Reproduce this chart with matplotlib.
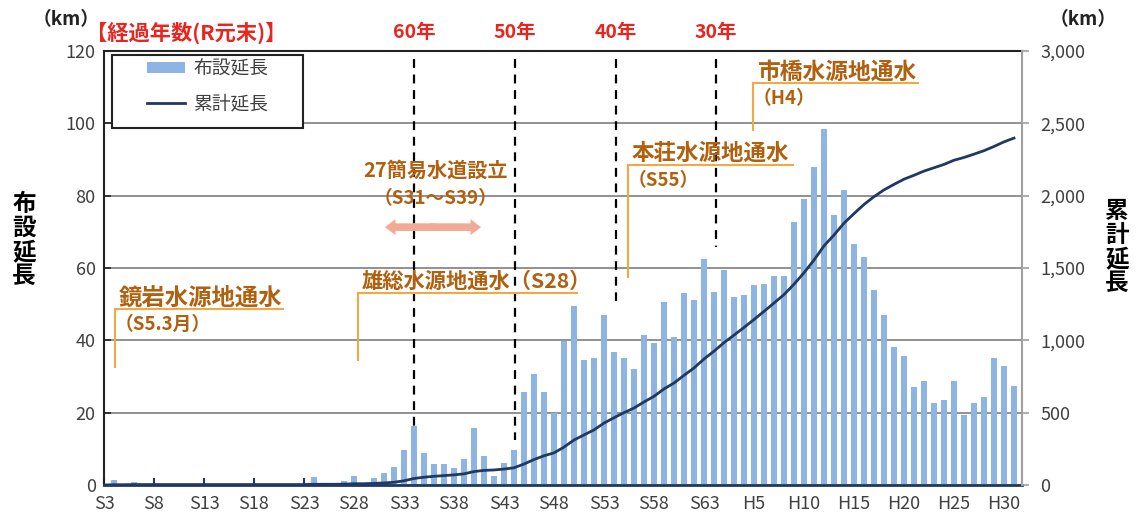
import numpy as np
import matplotlib
matplotlib.use('Agg')
import matplotlib.pyplot as plt
from matplotlib.patches import FancyArrowPatch, Rectangle
from matplotlib.lines import Line2D
from matplotlib.patches import Patch

plt.rcParams['font.family'] = ['Noto Sans CJK JP', 'DejaVu Sans']

# one value per year, S3 (1928) .. R1 (2019)
years = list(range(1928, 2020))

laid = [0, 1.5, 0, 0.8, 0, 0, 0, 0, 0, 0,
        0, 0, 0, 0, 0, 0, 0, 0, 0, 0,
        0, 2.1, 0, 0, 1.2, 2.6, 0, 1.9, 3.2, 5.1,
        9.7, 16.3, 8.9, 5.7, 5.7, 4.8, 7.1, 15.7, 8.0, 2.6,
        6.2, 9.7, 25.8, 30.7, 25.8, 20.0, 39.9, 49.5, 34.7, 35.2,
        47.0, 36.7, 35.0, 32.2, 41.5, 39.3, 50.6, 40.8, 53.2, 51.1,
        62.4, 53.3, 59.4, 52.1, 52.4, 55.3, 55.6, 57.9, 57.9, 72.6,
        79.0, 87.8, 98.3, 74.6, 81.6, 66.5, 63.0, 53.9, 47.0, 38.2,
        35.7, 27.0, 28.8, 22.6, 23.5, 28.8, 19.3, 22.6, 24.4, 35.2,
        33.0, 27.5]

total = [0, 2, 2, 3, 3, 3, 3, 3, 3, 3,
         3, 3, 3, 3, 3, 3, 3, 3, 3, 3,
         3, 5, 5, 5, 6, 9, 9, 11, 14, 19,
         29, 45, 54, 60, 65, 70, 77, 93, 101, 104,
         110, 119, 145, 176, 202, 222, 262, 311, 346, 381,
         428, 465, 500, 532, 574, 613, 664, 705, 758, 809,
         871, 925, 984, 1036, 1089, 1144, 1200, 1258, 1316, 1388,
         1467, 1555, 1653, 1728, 1810, 1876, 1939, 1993, 2040, 2078,
         2114, 2141, 2170, 2193, 2216, 2245, 2264, 2287, 2311, 2340,
         2372, 2398]

tick_labels = ['S3', 'S8', 'S13', 'S18', 'S23', 'S28', 'S33', 'S38', 'S43',
               'S48', 'S53', 'S58', 'S63', 'H5', 'H10', 'H15', 'H20', 'H25', 'H30']

elapsed = ['60年', '50年', '40年', '30年']
elapsed_pos = [31, 41.1, 51.2, 61.2]
elapsed_end = [16.3, 12.4, 51, 65.8]

bar_color = '#8EB4E3'
line_color = '#1F3864'
note_color = '#B0600E'
lead_color = '#F2A945'
red = '#E8251F'

fig = plt.figure(figsize=(11.36, 5.22), dpi=100)
ax = fig.add_axes([104/1136, 1-485/522, 918/1136, 434/522])

x = np.arange(len(years))
ax.bar(x, laid, width=0.68, color=bar_color, zorder=2)
ax.set_xlim(0, 91.8)
ax.set_ylim(0, 120)
ax.set_yticks(range(0, 121, 20))
ax.yaxis.grid(True, color='#888888', lw=1.3)
ax.set_axisbelow(True)
ax.set_xticks(range(0, 91, 5))
ax.set_xticklabels(tick_labels)
ax.tick_params(axis='y', direction='in', length=5, width=1.2, color='#222222',
               labelsize=13, labelcolor='#404040', pad=6)
ax.tick_params(axis='x', direction='in', length=5, width=1.5, color=line_color,
               labelsize=13, labelcolor='#404040', pad=7)
for s in ['top', 'left']:
    ax.spines[s].set_color('#222222')
    ax.spines[s].set_linewidth(1.5)
ax.spines['bottom'].set_color(line_color)
ax.spines['bottom'].set_linewidth(2)
ax.spines['right'].set_visible(False)

ax2 = ax.twinx()
ax2.plot(x, total, color=line_color, lw=2, zorder=3)
ax2.set_ylim(0, 3000)
ax2.set_yticks(range(0, 3001, 500))
ax2.set_yticklabels(['{:,}'.format(v) for v in range(0, 3001, 500)])
ax2.tick_params(axis='y', direction='out', length=5, width=1.2, color='#A0A0A0',
                labelsize=13, labelcolor='#404040', pad=8)
for s in ['top', 'left', 'bottom']:
    ax2.spines[s].set_visible(False)
ax2.spines['right'].set_color('#A0A0A0')
ax2.spines['right'].set_linewidth(1.5)

# elapsed-year markers
for lab, p, e in zip(elapsed, elapsed_pos, elapsed_end):
    ax2.plot([p, p], [117.8 * 25, e * 25], color='black', lw=1.6, ls=(0, (4, 3)), zorder=4)
    ax.text(p, 1.042, lab, transform=ax.get_xaxis_transform(), ha='center', va='center',
            color=red, fontsize=14, fontweight='bold')
fig.text(86/1136, 1-33/522, '【経過年数(R元末)】', ha='left', va='center',
         color=red, fontsize=15.3, fontweight='bold')

# event notes (drawn in left-axis units, scaled to the twin axis)
def note(xl, yl, ybot, xr, line1, line2, size=16.5):
    k = 25
    ax2.plot([xl, xr], [yl * k, yl * k], color=lead_color, lw=1.5, zorder=5)
    ax2.plot([xl, xl], [yl * k, ybot * k], color=lead_color, lw=1.5, zorder=5)
    tx = xl + 0.4
    ax2.text(tx, (yl + 3.1) * k, line1, ha='left', va='center', color=note_color,
             fontsize=size, fontweight='bold', zorder=6)
    if line2:
        ax2.text(tx - 0.4, (yl - 4.4) * k, line2, ha='left', va='center', color=note_color,
                 fontsize=13.5, fontweight='bold', zorder=6)

note(1.1, 48.7, 32.6, 17.9, '鏡岩水源地通水', '（S5.3月）', 16.8)
note(25.4, 53.1, 34.6, 47.3, '雄総水源地通水（S28）', None, 15.3)
note(52.4, 88.5, 57.5, 68.9, '本荘水源地通水', '（S55）', 16.2)
note(64.9, 111.1, 98.1, 81.4, '市橋水源地通水', '（H4）', 16.4)

ax2.text(33.2, 87.1 * 25, '27簡易水道設立', ha='center', va='center', color=note_color,
         fontsize=14.5, fontweight='bold', zorder=6)
ax2.text(33.2, 79.1 * 25, '（S31～S39）', ha='center', va='center', color=note_color,
         fontsize=13.5, fontweight='bold', zorder=6)
mid = (28.1 + 37.7) / 2
for end in [28.1, 37.7]:
    ax2.add_patch(FancyArrowPatch((mid + (0.3 if end < mid else -0.3), 71.3 * 25), (end, 71.3 * 25),
                                  arrowstyle='simple,head_length=0.75,head_width=1.15,tail_width=0.55',
                                  mutation_scale=10, color='#F3AA94', lw=0, zorder=6,
                                  shrinkA=0, shrinkB=0))

# legend box drawn as its own frame, entries placed inside it
ax2.add_patch(Rectangle(((112-104)/918, (485-128)/434), (303-112)/918, (128-55)/434,
                        transform=ax.transAxes, facecolor='white', edgecolor='#222222',
                        lw=1.5, zorder=9))
handles = [Patch(facecolor=bar_color, edgecolor='none'),
           Line2D([0], [0], color=line_color, lw=2)]
leg = ax2.legend(handles, ['布設延長', '累計延長'], loc='upper left',
                 bbox_to_anchor=((147-104)/918, (485-58)/434), frameon=False,
                 fontsize=13.5, handlelength=2.0, handleheight=0.5,
                 borderpad=0.0, labelspacing=0.75, borderaxespad=0, handletextpad=0.45)
for t in leg.get_texts():
    t.set_color('#404040')
leg.set_zorder(10)

fig.text(66/1136, 1-20/522, '（km）', ha='center', va='center', fontsize=13.5,
         fontweight='bold', color='#222222')
fig.text(1083/1136, 1-20/522, '（km）', ha='center', va='center', fontsize=13.5,
         fontweight='bold', color='#222222')
fig.text(24/1136, 1-240/522, '布\n設\n延\n長', ha='center', va='center', fontsize=17,
         fontweight='bold', linespacing=1.0)
fig.text(1117/1136, 1-247/522, '累\n計\n延\n長', ha='center', va='center', fontsize=17,
         fontweight='bold', linespacing=1.0)

fig.savefig('out.png', dpi=100)
